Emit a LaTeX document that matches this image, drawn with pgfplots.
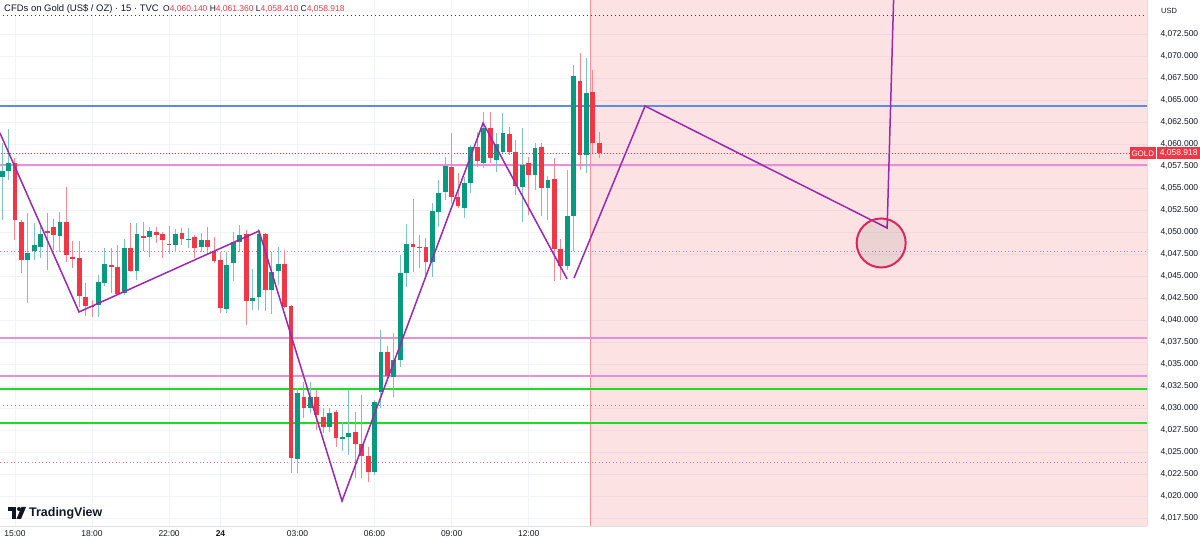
\documentclass[border=0pt]{standalone}
\usepackage{pgfplots}
\usepackage{pgfplotstable}
\pgfplotsset{compat=1.18}
\usepackage{fontspec}
\setmainfont{Liberation Sans}
\definecolor{tvgreen}{HTML}{089981}
\definecolor{tvred}{HTML}{F23645}
\definecolor{tvgreenw}{HTML}{7CC6BA}
\definecolor{tvredw}{HTML}{F58891}
\definecolor{tvtext}{HTML}{131722}
\definecolor{tvgrid}{HTML}{F0F3FA}
\definecolor{zz}{HTML}{9C27B0}
\definecolor{hblue}{HTML}{5B8DE4}
\definecolor{horchid}{HTML}{E690DC}
\definecolor{hmag}{HTML}{D070D0}
\definecolor{hgreen}{HTML}{1EDC1E}
\definecolor{hgreend}{HTML}{4CAF50}
\definecolor{hnavy}{HTML}{2B3290}
\definecolor{circ}{HTML}{E0245E}

\pgfplotstableread{
x o h l c
-2 4056.25 4060.11 4051.36 4056.93
-1 4056.93 4061.70 4055.91 4057.84
2 4046.81 4052.16 4041.93 4047.61
3 4047.84 4051.02 4046.81 4048.52
4 4048.29 4050.79 4047.04 4049.77
7 4049.54 4052.27 4047.72 4051.13
13 4041.70 4045.11 4040.34 4044.31
14 4044.20 4048.18 4043.86 4046.36
17 4043.06 4049.20 4042.84 4048.18
19 4045.56 4051.02 4044.54 4049.77
21 4049.43 4050.56 4047.16 4050.11
25 4048.52 4050.34 4047.72 4049.77
27 4049.09 4050.45 4048.18 4049.20
29 4048.29 4049.88 4047.72 4049.09
33 4041.25 4047.72 4040.79 4046.25
34 4046.47 4050.00 4044.43 4048.86
35 4048.86 4050.79 4047.72 4049.66
37 4042.16 4045.79 4041.13 4042.50
38 4042.61 4050.34 4041.13 4049.77
40 4043.41 4047.72 4040.68 4045.45
41 4045.56 4048.29 4043.97 4046.36
44 4024.20 4032.27 4022.61 4031.70
46 4030.00 4032.95 4029.43 4031.25
49 4027.84 4030.00 4027.27 4029.43
51 4026.53 4028.41 4025.11 4026.65
52 4026.70 4032.04 4024.66 4027.16
56 4022.72 4030.91 4022.38 4030.68
57 4031.81 4038.86 4030.00 4036.36
59 4033.52 4038.52 4031.25 4035.45
60 4035.45 4047.38 4034.66 4045.34
61 4045.34 4050.91 4043.75 4048.63
65 4046.59 4053.29 4044.88 4052.38
66 4052.27 4055.91 4050.56 4054.43
67 4054.54 4058.52 4053.64 4057.50
70 4052.72 4056.25 4051.59 4055.56
71 4055.56 4059.88 4054.43 4059.66
73 4057.84 4063.63 4057.27 4061.81
75 4058.18 4061.25 4056.81 4060.00
76 4059.09 4063.52 4058.97 4061.25
79 4055.11 4061.81 4051.13 4057.61
81 4056.47 4060.11 4054.77 4059.54
83 4055.00 4056.36 4051.36 4055.91
86 4046.13 4057.04 4045.68 4051.81
87 4051.81 4068.97 4047.84 4067.72
89 4058.75 4069.77 4056.70 4065.79
}\greendata

\pgfplotstableread{
x o h l c
0 4057.84 4058.41 4049.09 4051.36
1 4051.13 4051.36 4045.34 4046.81
5 4050.11 4052.16 4045.68 4049.88
6 4050.56 4051.47 4047.95 4049.66
8 4051.13 4055.11 4046.59 4047.38
9 4047.16 4048.97 4045.91 4046.98
10 4047.04 4048.97 4041.47 4042.72
11 4042.61 4044.20 4040.45 4041.59
12 4041.59 4042.27 4040.34 4041.47
15 4046.25 4048.18 4043.06 4046.02
16 4046.02 4048.52 4042.84 4042.95
18 4048.18 4051.02 4045.45 4045.56
20 4049.54 4051.13 4047.84 4049.31
22 4050.00 4050.56 4048.75 4049.66
23 4049.77 4050.00 4047.04 4049.09
24 4048.69 4050.68 4047.50 4048.58
26 4049.88 4050.45 4048.52 4049.20
28 4049.43 4049.66 4047.04 4048.18
30 4049.09 4050.56 4047.38 4048.29
31 4047.84 4049.43 4046.47 4046.70
32 4046.81 4047.72 4040.79 4041.36
36 4049.77 4050.22 4039.43 4042.16
39 4049.77 4049.88 4041.02 4043.41
42 4046.36 4047.95 4041.36 4041.47
43 4041.59 4041.70 4022.61 4024.31
45 4031.25 4032.95 4028.86 4030.00
47 4031.25 4032.04 4027.50 4029.20
48 4028.97 4030.00 4027.16 4027.84
50 4029.54 4029.77 4025.56 4026.59
53 4027.27 4029.54 4022.04 4025.91
54 4025.91 4031.47 4022.04 4024.54
55 4024.54 4025.56 4021.59 4022.72
58 4036.36 4037.04 4033.52 4033.63
62 4048.63 4053.75 4045.45 4048.29
63 4048.29 4049.66 4045.91 4048.18
64 4048.29 4049.31 4045.11 4046.59
68 4057.38 4061.25 4053.29 4053.97
69 4053.97 4056.70 4052.72 4052.95
72 4059.66 4061.36 4057.38 4058.06
74 4061.81 4063.63 4057.84 4058.41
77 4061.13 4061.93 4058.75 4059.09
78 4059.09 4060.45 4054.20 4055.22
80 4057.84 4058.52 4051.93 4056.47
82 4059.66 4060.11 4051.81 4055.00
84 4056.02 4058.41 4044.43 4048.06
85 4048.06 4049.20 4044.54 4046.13
88 4067.16 4070.34 4057.04 4058.75
90 4065.91 4068.41 4058.97 4060.14
91 4060.14 4061.36 4058.41 4058.918
}\reddata

\begin{document}
\begin{tikzpicture}
\useasboundingbox (0,0) rectangle (1200bp,542bp);
\fill[white] (0,0) rectangle (1200bp,542bp);
\begin{axis}[
  at={(0bp,16bp)}, anchor=south west,
  width=1147bp, height=526bp, scale only axis,
  xmin=-2.336, xmax=176.3, ymin=4016.59, ymax=4076.36,
  axis x line*=bottom, axis y line*=right,
  axis line style={draw=black!12, line width=0.8bp},
  major tick length=0pt,
  xtick={0,12,24,32,44,56,68,80},
  xticklabels={15:00,18:00,22:00,\textbf{24},03:00,06:00,09:00,12:00},
  ytick={4017.5,4020,4022.5,4025,4027.5,4030,4032.5,4035,4037.5,4040,4042.5,4045,4047.5,4050,4052.5,4055,4057.5,4060,4062.5,4065,4067.5,4070,4072.5},
  grid=major,
  major grid style={draw=tvgrid, line width=0.8bp},
  yticklabel style={anchor=west, xshift=10bp, font=\fontsize{8.5}{10}\selectfont, text=tvtext},
  xticklabel style={anchor=north, yshift=-1bp, font=\fontsize{8.5}{10}\selectfont, text=tvtext},
  /pgf/number format/.cd, fixed, fixed zerofill, precision=3, 1000 sep={,}, assume math mode=true,
]
% future region
\addplot[draw=none, fill=tvred, fill opacity=0.14, forget plot]
  coordinates {(89.56,4010) (89.56,4080) (180,4080) (180,4010)};
\addplot[tvred!55!white, line width=1bp] coordinates {(89.56,4010) (89.56,4080)};
% horizontal levels
\addplot[hnavy, line width=1bp, dash pattern=on 1.2bp off 2.8bp] coordinates {(-5,4074.55) (180,4074.55)};
\addplot[hblue, line width=1.5bp] coordinates {(-5,4064.32) (180,4064.32)};
\addplot[tvred, line width=0.9bp, dash pattern=on 1bp off 2bp] coordinates {(-5,4058.918) (180,4058.918)};
\addplot[horchid, line width=1.2bp] coordinates {(-5,4057.6) (180,4057.6)};
\addplot[hmag, line width=0.9bp, dash pattern=on 1bp off 2.5bp] coordinates {(-5,4047.84) (180,4047.84)};
\addplot[horchid, line width=1.2bp] coordinates {(-5,4037.95) (180,4037.95)};
\addplot[horchid, line width=1.2bp] coordinates {(-5,4033.64) (180,4033.64)};
\addplot[hgreen, line width=1.5bp] coordinates {(-5,4032.16) (180,4032.16)};
\addplot[hgreend, line width=1bp, dash pattern=on 1bp off 3bp] coordinates {(-5,4030.23) (180,4030.23)};
\addplot[hgreen, line width=1.5bp] coordinates {(-5,4028.30) (180,4028.30)};
\addplot[hmag, line width=0.9bp, dash pattern=on 1bp off 2.5bp] coordinates {(-5,4023.86) (180,4023.86)};
% wicks
\addplot[forget plot, draw=none, mark=none,
  error bars/.cd, y dir=plus, y explicit, error mark=none,
  error bar style={draw=tvgreenw, line width=1bp, solid}]
  table[x=x, y=l, y error plus expr=\thisrow{h}-\thisrow{l}] {\greendata};
\addplot[forget plot, draw=none, mark=none,
  error bars/.cd, y dir=plus, y explicit, error mark=none,
  error bar style={draw=tvredw, line width=1bp, solid}]
  table[x=x, y=l, y error plus expr=\thisrow{h}-\thisrow{l}] {\reddata};
% bodies
\addplot[forget plot, draw=none, mark=none,
  error bars/.cd, y dir=plus, y explicit, error mark=none,
  error bar style={draw=tvgreen, line width=4.8bp, solid}]
  table[x=x, y=o, y error plus expr=\thisrow{c}-\thisrow{o}] {\greendata};
\addplot[forget plot, draw=none, mark=none,
  error bars/.cd, y dir=plus, y explicit, error mark=none,
  error bar style={draw=tvred, line width=4.8bp, solid}]
  table[x=x, y=c, y error plus expr=\thisrow{o}-\thisrow{c}] {\reddata};
% zigzag drawing
\addplot[zz, line width=1.5bp] coordinates {
  (-2.34,4061.25) (9.97,4040.91) (38.0,4050.11) (50.93,4019.43) (72.9,4062.38) (85.98,4044.66)};
\addplot[zz, line width=1.5bp] coordinates {
  (87.07,4044.77) (98.13,4064.31) (135.83,4050.45) (136.9,4078)};
% target circle
\addplot[only marks, mark=*, mark size=24.5bp,
  mark options={draw=circ, line width=2bp, fill=black, fill opacity=0.07, draw opacity=1}]
  coordinates {(134.9,4048.75)};
\end{axis}
% header
\node[anchor=west, inner sep=0, font=\fontsize{9.5}{11}\selectfont, text=tvtext] at (4bp,533bp)
  {CFDs on Gold (US\$ / OZ) · 15 · TVC};
\node[anchor=west, inner sep=0, font=\fontsize{8.5}{11}\selectfont, text=tvtext] at (163bp,533bp)
  {O{\color{tvred}4,060.140} H{\color{tvred}4,061.360} L{\color{tvred}4,058.410} C{\color{tvred}4,058.918}};
\node[anchor=west, inner sep=0, font=\fontsize{7.5}{9}\selectfont, text=tvtext] at (1161bp,531bp) {USD};
% price tag
\node[anchor=west, fill=tvred, text=white, inner sep=0, minimum height=12bp, minimum width=43bp,
  font=\fontsize{8.5}{10}\selectfont] at (1157bp,388.5bp) {4,058.918};
\node[anchor=east, fill=tvred, text=white, inner sep=0, minimum height=12bp, minimum width=26bp,
  font=\fontsize{8}{9}\selectfont] at (1156bp,388.5bp) {GOLD};
% logo
\fill[tvtext] (8bp,35bp) rectangle (16bp,31bp);
\fill[tvtext] (12bp,35bp) rectangle (16bp,23bp);
\fill[tvtext] (19bp,33bp) circle (2bp);
\fill[tvtext] (21.5bp,35bp) -- (26bp,35bp) -- (21bp,23bp) -- (16.5bp,23bp) -- cycle;
\node[anchor=west, inner sep=0, font=\bfseries\fontsize{12.5}{14}\selectfont, text=tvtext] at (29bp,29bp) {TradingView};
\end{tikzpicture}
\end{document}
